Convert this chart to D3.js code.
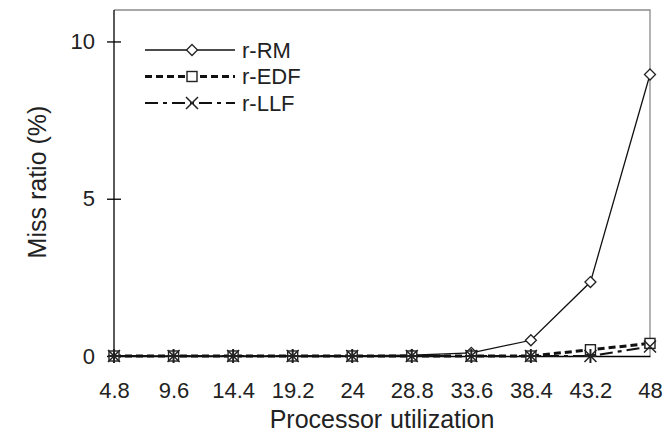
<!DOCTYPE html>
<html>
<head>
<meta charset="utf-8">
<script src="https://cdn.jsdelivr.net/npm/d3@7"></script>
<style>
  body { margin: 0; background: #fff; }
  text { font-family: "Liberation Sans", Arial, sans-serif; fill: #222; }
</style>
</head>
<body>
<div id="chart"></div>
<script>
// data
const utilization = [4.8, 9.6, 14.4, 19.2, 24, 28.8, 33.6, 38.4, 43.2, 48];
const rRM = [0, 0, 0, 0, 0, 0.03, 0.1, 0.5, 2.35, 8.95];
const rEDF = [0, 0, 0, 0, 0, 0, 0, 0, 0.2, 0.4];
const rLLF = [0, 0, 0, 0, 0, 0, 0, 0, 0, 0.3];
const yTicks = [0, 5, 10];

const W = 665, H = 436;
const margin = { top: 10, right: 15, bottom: 80, left: 114 };
const width = W - margin.left - margin.right,
  height = H - margin.top - margin.bottom;

const svg = d3
  .select('#chart')
  .append('svg')
  .attr('width', W)
  .attr('height', H)
  .append('g')
  .attr('transform', `translate(${margin.left}, ${margin.top})`);

const x = d3.scalePoint().domain(utilization).range([0, width]);
const y = d3.scaleLinear().domain([0, 11]).range([height, 0]);

// frame: top and right in grey
svg.append('path')
  .attr('d', `M0,0H${width}V${height}`)
  .attr('fill', 'none')
  .attr('stroke', '#8a8a8a')
  .attr('stroke-width', 1.3);

// x axis
const xAxis = svg.append('g')
  .attr('transform', `translate(0, ${height})`)
  .call(d3.axisBottom(x).tickSize(0).tickPadding(26).tickFormat(d => d));
xAxis.select('.domain').attr('stroke', '#000').attr('stroke-width', 1.3);
xAxis.selectAll('text').style('font-size', '22px').attr('fill', '#222');

// y axis
const yAxis = svg.append('g')
  .call(d3.axisLeft(y).tickValues(yTicks).tickSize(7).tickPadding(12));
yAxis.select('.domain').attr('d', `M0,0V${height}`).attr('stroke', '#000').attr('stroke-width', 1.3);
yAxis.selectAll('.tick line').attr('x2', 7).attr('x1', -7).attr('stroke', '#000').attr('stroke-width', 1.3);
yAxis.selectAll('text').style('font-size', '22px').attr('fill', '#222');

// titles
svg.append('text')
  .attr('x', width / 2)
  .attr('y', 418)
  .attr('text-anchor', 'middle')
  .style('font-size', '25px')
  .style('word-spacing', '1px')
  .text('Processor utilization');

svg.append('text')
  .attr('transform', `translate(${-68}, ${172}) rotate(-90)`)
  .attr('text-anchor', 'middle')
  .style('font-size', '25px')
  .text('Miss ratio (%)');

const series = [
  { name: 'r-RM', values: rRM, dash: null, width: 1.3, marker: 'diamond' },
  { name: 'r-EDF', values: rEDF, dash: '7,4', width: 3, marker: 'square' },
  { name: 'r-LLF', values: rLLF, dash: '13,5,4,5', width: 2.2, marker: 'cross' }
];

const line = d3.line()
  .x((d, i) => x(utilization[i]))
  .y(d => y(d));

function drawMarker(g, type, cx, cy) {
  if (type === 'diamond') {
    g.append('path')
      .attr('d', `M${cx},${cy - 5.5}L${cx + 5.5},${cy}L${cx},${cy + 5.5}L${cx - 5.5},${cy}Z`)
      .attr('fill', '#fff').attr('stroke', '#222').attr('stroke-width', 1.3);
  } else if (type === 'square') {
    g.append('rect')
      .attr('x', cx - 5).attr('y', cy - 5).attr('width', 10).attr('height', 10)
      .attr('fill', '#fff').attr('stroke', '#222').attr('stroke-width', 1.4);
  } else {
    g.append('path')
      .attr('d', `M${cx - 6},${cy - 6}L${cx + 6},${cy + 6}M${cx + 6},${cy - 6}L${cx - 6},${cy + 6}`)
      .attr('stroke', '#222').attr('stroke-width', 1.5);
  }
}

// lines + markers (draw LLF first so RM sits on top)
series.slice().reverse().forEach(s => {
  svg.append('path')
    .datum(s.values)
    .attr('fill', 'none')
    .attr('stroke', '#111')
    .attr('stroke-width', s.width)
    .attr('stroke-dasharray', s.dash)
    .attr('d', line);
});
series.forEach(s => {
  const g = svg.append('g');
  s.values.forEach((v, i) => drawMarker(g, s.marker, x(utilization[i]), y(v)));
});
// overlapping markers at zero look like a heavy star in the picture
const star = svg.append('g');
utilization.forEach((u, i) => {
  if (rLLF[i] === 0) {
    const cx = x(u), cy = y(0);
    star.append('path')
      .attr('d', `M${cx},${cy - 7}V${cy + 7}M${cx - 6},${cy}H${cx + 6}`)
      .attr('stroke', '#222').attr('stroke-width', 2);
  }
});

// legend
const legend = svg.append('g').attr('transform', 'translate(31, 40)');
series.forEach((s, i) => {
  const ly = i * 26.5;
  legend.append('line')
    .attr('x1', 0).attr('x2', 90).attr('y1', ly).attr('y2', ly)
    .attr('stroke', '#111')
    .attr('stroke-width', s.width)
    .attr('stroke-dasharray', s.dash);
  drawMarker(legend, s.marker, 47, ly);
  legend.append('text')
    .attr('x', 97).attr('y', ly)
    .attr('dy', '0.36em')
    .style('font-size', '22px')
    .text(s.name);
});
</script>
</body>
</html>
